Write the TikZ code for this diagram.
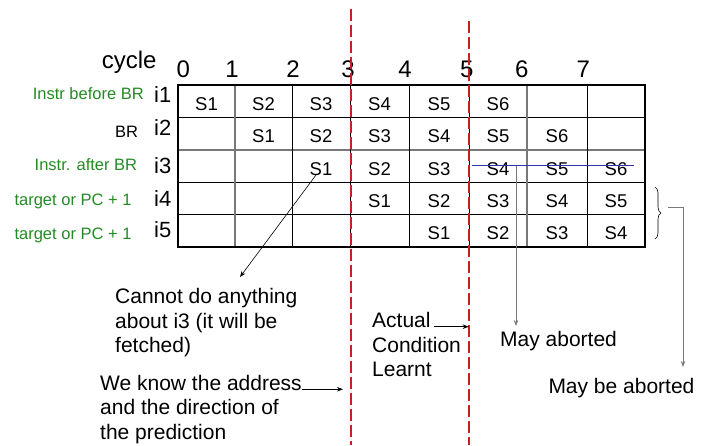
\documentclass[tikz,border=0pt]{standalone}
\usepackage{fontspec}
\setmainfont{Liberation Sans}
\usetikzlibrary{arrows.meta,decorations.pathreplacing,calc}
\definecolor{rolegreen}{RGB}{34,139,34}
\definecolor{cutred}{RGB}{204,30,30}
\definecolor{strikeblue}{RGB}{50,50,170}
\definecolor{gridgray}{RGB}{120,120,120}
\begin{document}
\begin{tikzpicture}[x=1pt,y=-1pt,
  cell/.style={font=\fontsize{18.5}{22}\selectfont, anchor=base, inner sep=0pt},
  cyc/.style={font=\fontsize{24}{28}\selectfont, anchor=base, inner sep=0pt},
  iname/.style={font=\fontsize{22}{26}\selectfont, anchor=base west, inner sep=0pt},
  role/.style={font=\fontsize{16.5}{19}\selectfont, anchor=base east, inner sep=0pt, text=rolegreen},
  note/.style={font=\fontsize{21}{24.7}\selectfont, anchor=base west, inner sep=0pt, align=left},
  thingrid/.style={line width=0.8pt, black},
  graygrid/.style={line width=1.2pt, gridgray},
  cutline/.style={draw=cutred, line width=2pt, dash pattern=on 12pt off 4pt},
  ptr/.style={-{Stealth[length=6pt,width=4.5pt]}, line width=0.6pt},
]
\useasboundingbox (0,0) rectangle (702,445);

% pipeline table: inner rules
\foreach \y in {117,182,214} \draw[thingrid] (178,\y) -- (645,\y);
\draw[graygrid] (178,150) -- (645,150);
\foreach \x in {292,350,409,469,587} \draw[thingrid] (\x,85) -- (\x,247);
\foreach \x in {235,527} \draw[graygrid] (\x,85) -- (\x,247);
\draw[line width=2.5pt] (178,85) rectangle (645,247);

% stage entries
\foreach \r/\s/\n/\by in {1/0/6/110,2/1/6/142.5,3/2/6/175,4/3/5/207,5/4/4/239.5}{
  \foreach \k in {1,...,\n}{
    \pgfmathsetmacro\col{int(\s+\k-1)}
    \pgfmathsetmacro\cx{{206.5,263.5,321,379.5,439,498,557,616}[\col]}
    \node[cell] (c\r\col) at (\cx,\by) {S\k};
  }
}

% cycle header
\node[cyc, anchor=base west] (cyclbl) at (101.7,68.3) {cycle};
\foreach \i/\x in {0/183.3,1/232,2/293,3/348,4/405,5/466.7,6/521.7,7/583.3}
  \node[cyc] (cy\i) at (\x,77.3) {\i};

% instruction names
\foreach \i/\y in {1/102.7,2/135.7,3/173,4/206.7,5/237}
  \node[iname] (i\i) at (154,\y) {i\i};

% roles of the instructions
\node[role] (r1) at (144,99.3) {Instr before BR};
\node[role, text=black] (r2) at (138.3,137.3) {BR};
\node[role] (r3) at (137.3,170) {Instr. after BR};
\node[role] (r4) at (131.7,205.5) {target or PC + 1};
\node[role] (r5) at (131.7,239.3) {target or PC + 1};

% cycle boundaries
\coordinate (cutA top) at (351,9);
\coordinate (cutA bot) at (351,445);
\coordinate (cutB top) at (468.7,21);
\coordinate (cutB bot) at (468.7,445);
\draw[cutline] (cutA top) -- (cutA bot);
\draw[cutline] (cutB top) -- (cutB bot);

% squashed stages of i3
\draw[strikeblue, line width=1pt] ($(c35.base)+(-26,-10)$) -- ($(c37.base)+(18,-10)$);

% annotations (base = baseline of the last line)
\node[note] (cannot) at (115,352.7) {Cannot do anything\\about i3 (it will be\\fetched)};
\node[note] (know) at (100,439.4) {We know the address\\and the direction of\\the prediction};
\node[note] (actual) at (372,376.7) {Actual\\Condition\\Learnt};
\node[note] (mayab) at (500,346.7) {May aborted};
\node[note] (maybe) at (548.3,393.3) {May be aborted};

% pointers
\coordinate (cannot tip) at (240,277);
\draw[ptr] ($(c32.base)+(-5,0)$) -- (cannot tip);
\coordinate (know end) at (302,389.3);
\coordinate (know tip) at (343,389.3);
\draw[ptr] (know end) -- (know tip);
\coordinate (actual end) at (434,326.7);
\draw[ptr] (actual end) -- (actual end -| cutB top);
\coordinate (strike) at (516,166);
\draw[ptr, gridgray, line width=0.8pt] (strike) -- (516,326);
\draw[decorate, decoration={brace, amplitude=6pt}, line width=0.6pt] (655,187) -- (655,239);
\coordinate (brace tip) at (668,207);
\draw[ptr, gridgray, line width=0.8pt] (brace tip) -- (683,207) -- (683,367);
\end{tikzpicture}
\end{document}
